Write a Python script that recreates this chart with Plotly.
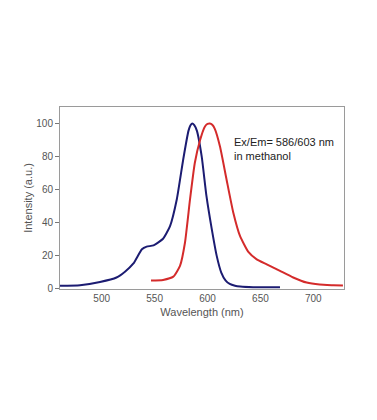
import plotly.graph_objects as go

ex_wl = [460.6, 479.5, 498.4, 514, 522, 530, 538, 542.5, 549, 558, 564.6, 571, 577, 582, 583.8, 585.5,
         587.5, 590, 594.5, 599, 604, 608.7, 613, 617, 621, 626, 631, 643, 668.5]
ex_int = [1.4, 1.8, 3.8, 6.5, 10, 15, 23.6, 25.2, 26, 30, 37.7, 54, 78, 95.5, 98.8, 100,
          99, 95.5, 80, 56, 36, 19.6, 9.5, 4.8, 2.6, 1.5, 1.0, 0.6, 0.6]

em_wl = [546.6, 558, 567.7, 574, 578.7, 583.5, 588, 593, 597.6, 600, 602.2, 604.5, 607, 611.8, 618, 624.4,
         630.7, 638.6, 646.5, 656, 668.5, 681, 693.7, 706, 719, 728]
em_int = [4.6, 5, 7, 13.5, 27.6, 54, 76, 90, 98.2, 99.7, 100, 99.2, 96.6, 86, 66, 45.8,
          31.7, 22, 17.5, 14.5, 10.5, 6.5, 3.4, 2.2, 1.8, 1.6]

x_ticks = [500, 550, 600, 650, 700]
y_ticks = [0, 20, 40, 60, 80, 100]

fig = go.Figure()
fig.add_trace(go.Scatter(x=ex_wl, y=ex_int, mode="lines",
                         line=dict(color="#1c1c72", width=2, shape="spline", smoothing=0.5),
                         showlegend=False))
fig.add_trace(go.Scatter(x=em_wl, y=em_int, mode="lines",
                         line=dict(color="#d42b2b", width=2, shape="spline", smoothing=0.5),
                         showlegend=False))

fig.add_annotation(x=0.606, y=0.85, xref="paper", yref="paper", xanchor="left", yanchor="top",
                   text="Ex/Em= 586/603 nm<br>in methanol", showarrow=False, align="left",
                   font=dict(family="Liberation Sans, Arial", size=11, color="#222222"))

fig.update_layout(
    width=377, height=420,
    margin=dict(l=52, r=41, t=99, b=139),
    paper_bgcolor="white", plot_bgcolor="white",
    font=dict(family="Liberation Sans, Arial", size=10, color="#555555"),
    xaxis=dict(range=[460.6, 729], tickvals=x_ticks, showgrid=False, zeroline=False,
               showline=True, linecolor="#9a9a9a", linewidth=1, mirror=True, ticks="",
               title=dict(text="Wavelength (nm)", font=dict(size=11, color="#555555"), standoff=5)),
    yaxis=dict(range=[-0.5, 110], tickvals=y_ticks, showgrid=False, zeroline=False,
               showline=True, linecolor="#9a9a9a", linewidth=1, mirror=True,
               ticks="outside", ticklen=4, tickcolor="#777777",
               title=dict(text="Intensity (a.u.)", font=dict(size=11, color="#555555"), standoff=1)),
)

fig.write_html("out.html")
